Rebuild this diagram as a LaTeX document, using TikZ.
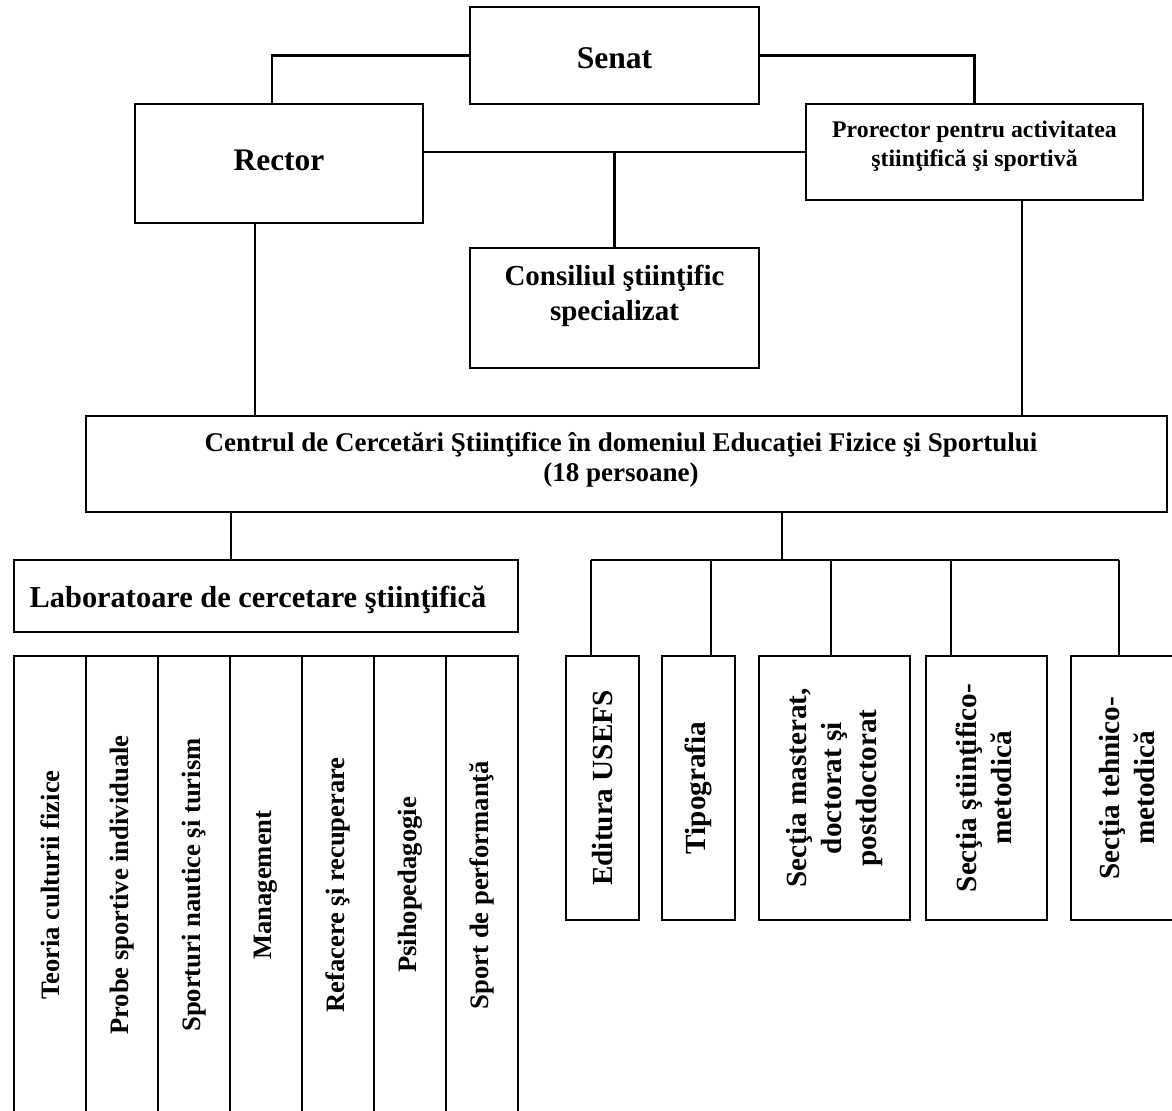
\documentclass[tikz,border=0pt]{standalone}
\usepackage{fontspec}
\setmainfont{Liberation Serif}
\usetikzlibrary{fit}
\tikzset{
  box/.style={draw, line width=1pt, inner sep=0pt, fit={#1}},
  topconn/.style={line width=1.4pt},
  midconn/.style={line width=1.1pt},
  conn/.style={line width=0.8pt},
  lbl/.style={font=\bfseries, align=center, inner sep=0pt},
  vlbl/.style={lbl, rotate=90, font=\bfseries\fontsize{13.3}{16}\selectfont},
  rlbl/.style={lbl, rotate=90, font=\bfseries\fontsize{14.6}{17.5}\selectfont},
}
\begin{document}
\begin{tikzpicture}[x=0.5pt,y=-0.5pt]
\useasboundingbox (0,0) rectangle (1172,1110);
\fill[white] (0,0) rectangle (1172,1110);
\clip (0,0) rectangle (1172,1110);

% top boxes
\node[box={(470,7) (759,104)}] (senat) {};
\node[box={(135,104) (423,223)}] (rector) {};
\node[box={(806,104) (1143,200)}] (pror) {};
\node[box={(470,248) (759,368)}] (cons) {};
\node[box={(86,416) (1167,512)}] (centr) {};
\node[box={(14,560) (518,632)}] (lab) {};

% labels of top boxes (anchor base = baseline of the last line)
\node[lbl, anchor=base, font=\bfseries\fontsize{15.8}{19}\selectfont] (senatT) at (614.5,68) {Senat};
\node[lbl, anchor=base, font=\bfseries\fontsize{15.7}{19}\selectfont] (rectorT) at (279,170) {Rector};
\node[lbl, anchor=base, font=\bfseries\fontsize{11.9}{14.5}\selectfont] (prorT) at (974.5,166.5) {Prorector pentru activitatea\\ştiinţifică şi sportivă};
\node[lbl, anchor=base, font=\bfseries\fontsize{14.5}{17.5}\selectfont] (consT) at (614.5,320) {Consiliul ştiinţific\\specializat};
\node[lbl, anchor=base, font=\bfseries\fontsize{13.5}{15}\selectfont] (centrT) at (621,481.7) {Centrul de Cercetări Ştiinţifice în domeniul Educaţiei Fizice şi Sportului\\(18 persoane)};
\node[lbl, anchor=base, font=\bfseries\fontsize{15.2}{18}\selectfont] (labT) at (258,607) {Laboratoare de cercetare ştiinţifică};

% left laboratory boxes
\node[box={(14,656) (86,1118)}] (l1) {};
\node[box={(86,656) (158,1118)}] (l2) {};
\node[box={(158,656) (230,1118)}] (l3) {};
\node[box={(230,656) (302,1118)}] (l4) {};
\node[box={(302,656) (374,1118)}] (l5) {};
\node[box={(374,656) (446,1118)}] (l6) {};
\node[box={(446,656) (518,1118)}] (l7) {};
\node[vlbl] (l1T) at (50,885) {Teoria culturii fizice};
\node[vlbl] (l2T) at (122,885) {Probe sportive individuale};
\node[vlbl] (l3T) at (194,885) {Sporturi nautice şi turism};
\node[vlbl] (l4T) at (266,885) {Management};
\node[vlbl] (l5T) at (338,885) {Refacere şi recuperare};
\node[vlbl] (l6T) at (410,885) {Psihopedagogie};
\node[vlbl] (l7T) at (482,885) {Sport de performanţă};

% right boxes
\node[box={(566,656) (639,920)}] (edit) {};
\node[box={(662,656) (735,920)}] (tipo) {};
\node[box={(759,656) (910,920)}] (mast) {};
\node[box={(926,656) (1047,920)}] (stiin) {};
\node[box={(1071,656) (1182,920)}] (tehn) {};
\node[rlbl] (editT) at (602.5,788) {Editura USEFS};
\node[rlbl] (tipoT) at (698.5,788) {Tipografia};
\node[rlbl] (mastT) at (834.5,788) {Secţia masterat,\\doctorat şi\\postdoctorat};
\node[rlbl] (stiinT) at (984,788) {Secţia ştiinţifico-\\metodică};
\node[rlbl] (tehnT) at (1126.5,788) {Secţia tehnico-\\metodică};

% connectors at top
\draw[topconn] (senat.west) -| ([xshift=-3.5pt]rector.north);
\draw[topconn] (senat.east) -| (pror.north);
\draw[midconn] (pror.west) -- (pror.west -| rector.east);
\draw[midconn] (cons.north) -- (cons.north |- pror.west);

% connectors to Centrul
\coordinate (rc) at (255,300);
\coordinate (pc) at (1022,300);
\draw[conn] (rector.south -| rc) -- (centr.north -| rc);
\draw[conn] (pror.south -| pc) -- (centr.north -| pc);

% Centrul to laboratories
\coordinate (lc) at (231,540);
\draw[conn] (centr.south -| lc) -- (lab.north -| lc);

% Centrul to right bus
\coordinate (bus) at (782,560);
\coordinate (b1) at (591,560);
\coordinate (b2) at (711,560);
\coordinate (b3) at (831,560);
\coordinate (b4) at (951,560);
\coordinate (b5) at (1119,560);
\draw[conn] (centr.south -| bus) -- (bus);
\draw[conn] (b1) -- (b5);
\draw[conn] (b1) -- (b1 |- edit.north);
\draw[conn] (b2) -- (b2 |- tipo.north);
\draw[conn] (b3) -- (b3 |- mast.north);
\draw[conn] (b4) -- (b4 |- stiin.north);
\draw[conn] (b5) -- (b5 |- tehn.north);
\end{tikzpicture}
\end{document}
